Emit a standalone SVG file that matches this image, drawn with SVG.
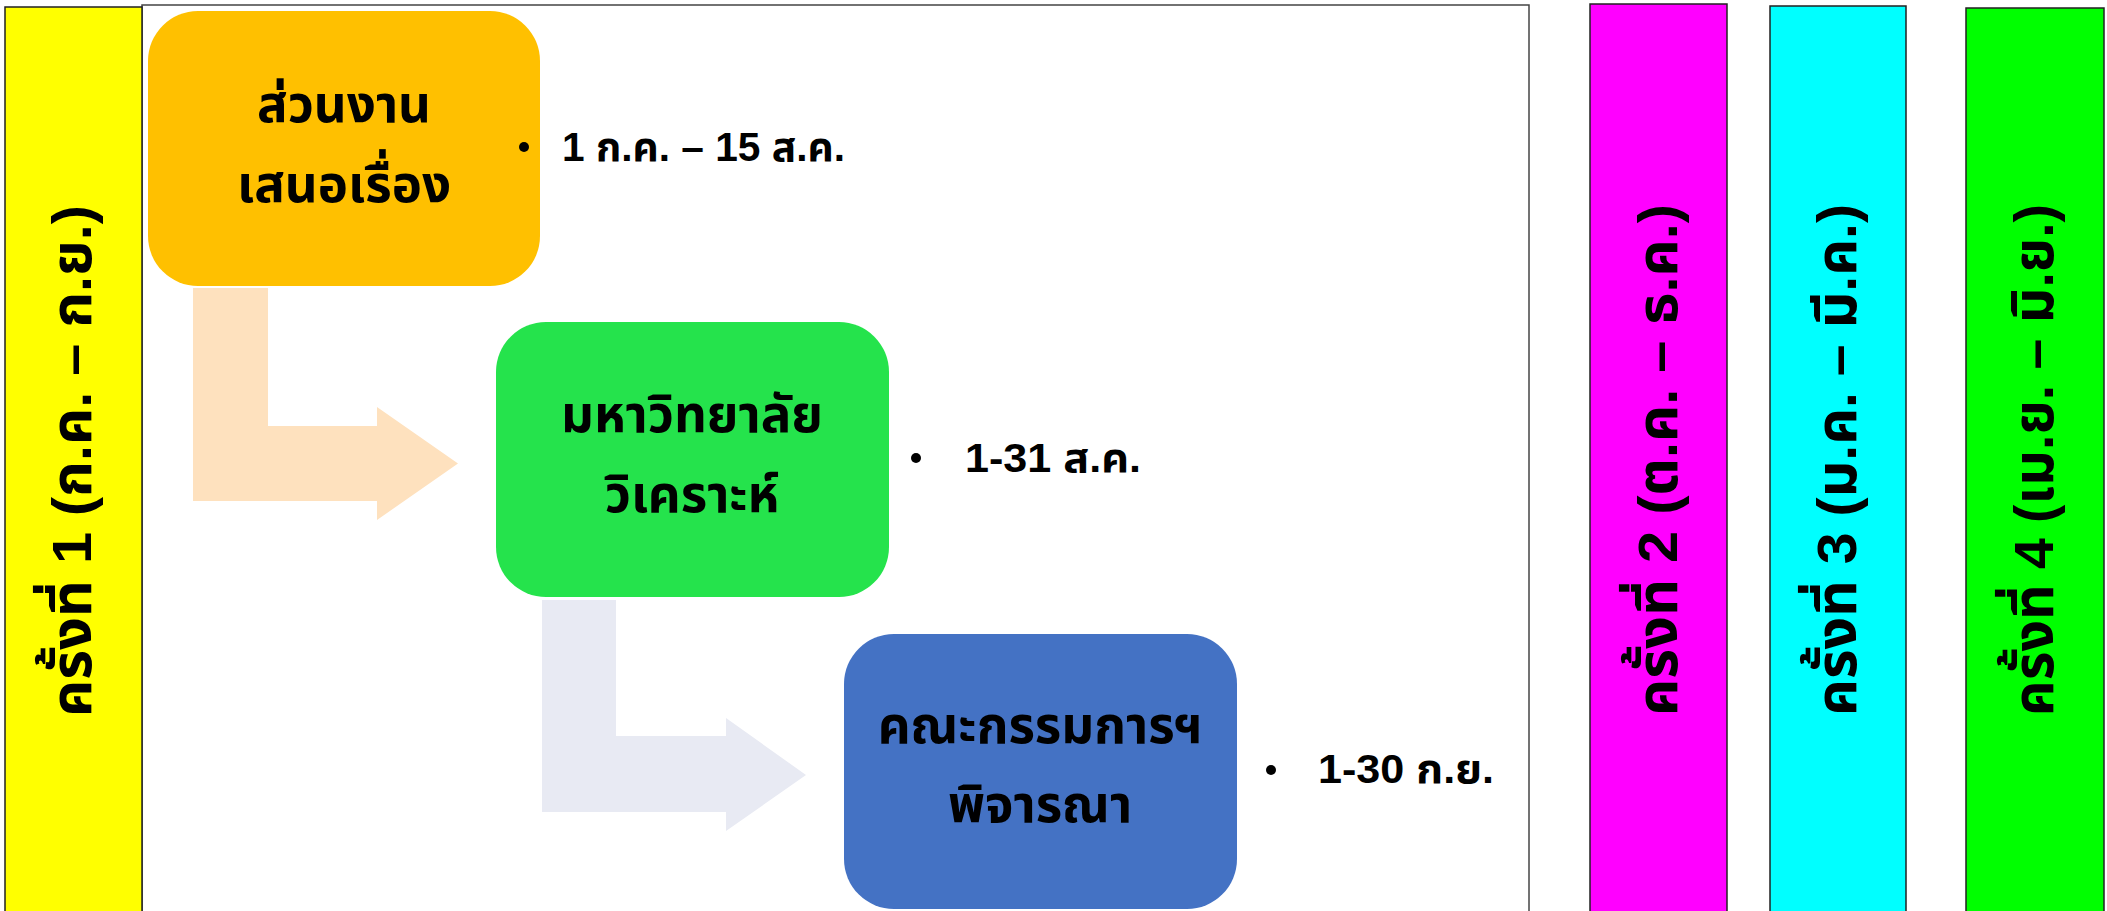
<svg xmlns="http://www.w3.org/2000/svg" width="2107" height="911" viewBox="0 0 2107 911">
<style>
.t{font-family:"Liberation Sans","Noto Sans Thai","Noto Sans",sans-serif;font-weight:bold;fill:#000}
.box{font-size:51px;text-anchor:middle}
.lbl{font-size:40px}
.bar{font-size:56px;text-anchor:middle}
.bstroke{stroke:#222;stroke-width:1.5}
</style>
<rect width="2107" height="911" fill="#fff"/>
<g id="frame"><rect x="142" y="5" width="1387" height="915" fill="#fff" stroke="#444" stroke-width="1.5"/></g>
<g id="bar1"><rect x="5" y="7" width="137" height="915" fill="#ffff00" class="bstroke"/>
<text class="t bar" transform="translate(91,461) rotate(-90)" textLength="512" lengthAdjust="spacingAndGlyphs">ครั้งที่ 1 (ก.ค. – ก.ย.)</text></g>
<g id="bar2"><rect x="1590" y="4" width="137" height="915" fill="#ff00ff" class="bstroke"/>
<text class="t bar" transform="translate(1677,460) rotate(-90)" textLength="512" lengthAdjust="spacingAndGlyphs">ครั้งที่ 2 (ต.ค. – ธ.ค.)</text></g>
<g id="bar3"><rect x="1770" y="6" width="136" height="915" fill="#00ffff" class="bstroke"/>
<text class="t bar" transform="translate(1856,460) rotate(-90)" textLength="512" lengthAdjust="spacingAndGlyphs">ครั้งที่ 3 (ม.ค. – มี.ค.)</text></g>
<g id="bar4"><rect x="1966" y="8" width="138" height="915" fill="#00ff00" class="bstroke"/>
<text class="t bar" transform="translate(2053,460) rotate(-90)" textLength="512" lengthAdjust="spacingAndGlyphs">ครั้งที่ 4 (เม.ย. – มิ.ย.)</text></g>
<g id="connectors">
<path d="M193,288 L268,288 L268,426 L377,426 L377,407 L458,463.5 L377,520 L377,501 L193,501 Z" fill="#fee1be"/>
<path d="M542,600 L616,600 L616,736 L726,736 L726,718 L806,775 L726,831 L726,812 L542,812 Z" fill="#e8eaf3"/>
</g>
<g id="node1"><rect x="148" y="11" width="392" height="275" rx="50" fill="#ffc000"/>
<text class="t box" x="344" y="122">ส่วนงาน</text><text class="t box" x="344" y="202">เสนอเรื่อง</text></g>
<g id="node2"><rect x="496" y="322" width="393" height="275" rx="50" fill="#25e34c"/>
<text class="t box" x="692" y="432">มหาวิทยาลัย</text><text class="t box" x="692" y="512">วิเคราะห์</text></g>
<g id="node3"><rect x="844" y="634" width="393" height="275" rx="50" fill="#4472c4"/>
<text class="t box" x="1040" y="743">คณะกรรมการฯ</text><text class="t box" x="1040" y="822">พิจารณา</text></g>
<g id="label1"><circle cx="524" cy="147" r="5"/><text class="t lbl" x="562" y="161" textLength="283" lengthAdjust="spacingAndGlyphs">1 ก.ค. – 15 ส.ค.</text></g>
<g id="label2"><circle cx="916" cy="458" r="5"/><text class="t lbl" x="965" y="472" textLength="176" lengthAdjust="spacingAndGlyphs">1-31 ส.ค.</text></g>
<g id="label3"><circle cx="1271" cy="770" r="5"/><text class="t lbl" x="1318" y="783" textLength="176" lengthAdjust="spacingAndGlyphs">1-30 ก.ย.</text></g>
</svg>
